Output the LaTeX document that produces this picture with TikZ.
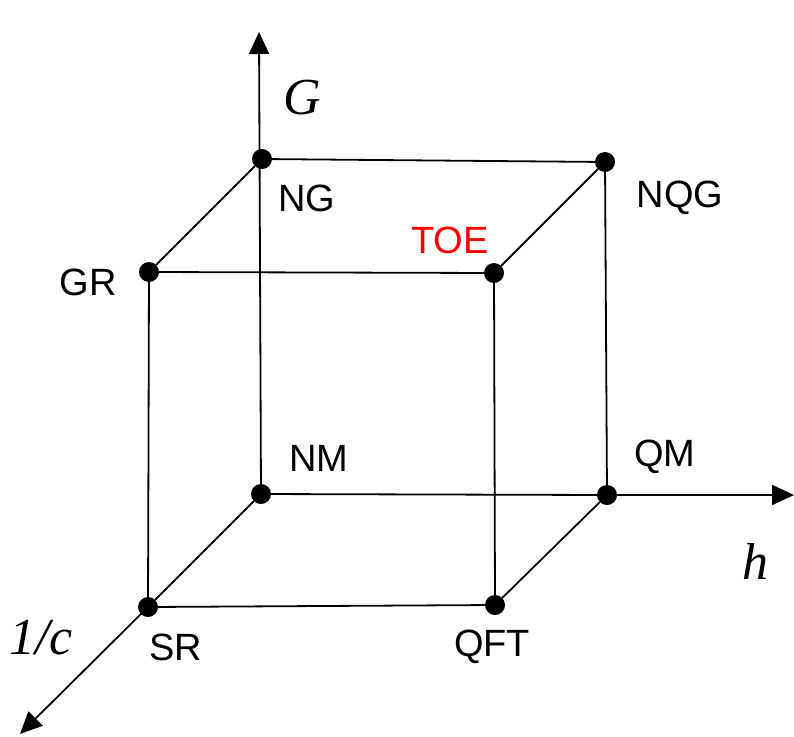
\documentclass[tikz,border=0pt]{standalone}
\usepackage{fontspec}
\setmainfont{Liberation Sans}
\newfontfamily\axisfont{Liberation Serif}
\usetikzlibrary{arrows.meta}
\begin{document}
\begin{tikzpicture}[x=1pt,y=-1pt,
  dot/.style={circle,fill=black,inner sep=0pt,minimum size=20pt},
  edge/.style={line width=1.8pt},
  axis/.style={line width=1.8pt,-{Triangle[length=22pt,width=20pt]}},
  lbl/.style={font=\fontsize{38}{40}\selectfont,inner sep=0pt},
  axlbl/.style={font=\axisfont\itshape\fontsize{52}{54}\selectfont,inner sep=0pt}]
\useasboundingbox (0,0) rectangle (794,736);
% vertices
\node[dot] (NM) at (261,494) {};
\node[dot] (QM) at (607,495) {};
\node[dot] (NG) at (262,159) {};
\node[dot] (NQG) at (605,162) {};
\node[dot] (GR) at (149,272) {};
\node[dot] (TOE) at (494,273) {};
\node[dot] (SR) at (148,607) {};
\node[dot] (QFT) at (495,605) {};
% axis ends
\coordinate (Gtip) at (259,32);
\coordinate (htip) at (794,495);
\coordinate (ctip) at (20,734);
% edges
\draw[edge] (NG) -- (NQG);
\draw[edge] (NG) -- (GR);
\draw[edge] (GR) -- (TOE);
\draw[edge] (TOE) -- (NQG);
\draw[edge] (GR) -- (SR);
\draw[edge] (TOE) -- (QFT);
\draw[edge] (NQG) -- (QM);
\draw[edge] (NM) -- (QM);
\draw[edge] (NM) -- (SR);
\draw[edge] (SR) -- (QFT);
\draw[edge] (QFT) -- (QM);
% axes
\draw[axis] (NM.center) -- (Gtip);
\draw[axis] (QM.center) -- (htip);
\draw[axis] (SR.center) -- (ctip);
% labels
\node[lbl] (lNG) at (307,198) {NG};
\node[lbl] (lNQG) at (680,198) {NQG};
\node[lbl,text=red] (lTOE) at (450,240) {TOE};
\node[lbl] (lGR) at (88,282) {GR};
\node[lbl] (lNM) at (319,458) {NM};
\node[lbl] (lQM) at (665,457) {QM};
\node[lbl] (lSR) at (176,647) {SR};
\node[lbl] (lQFT) at (492,647) {QFT};
\node[axlbl] (lG) at (302,98) {G};
\node[axlbl] (lh) at (755,561) {h};
\node[axlbl] (lc) at (41,638) {1/c};
\end{tikzpicture}
\end{document}
